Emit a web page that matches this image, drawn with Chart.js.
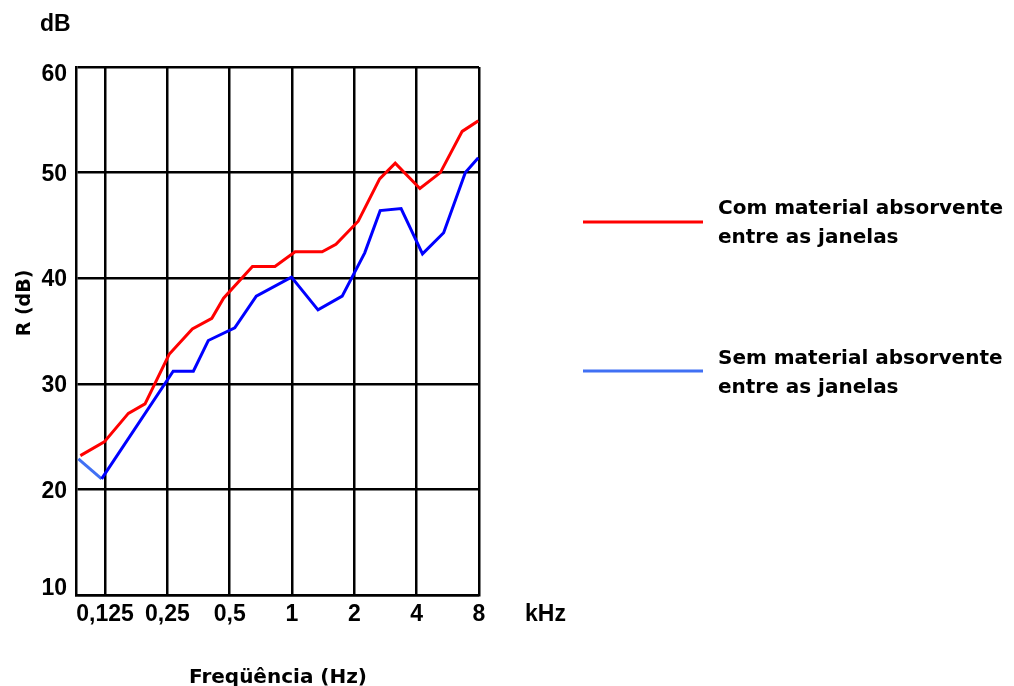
<!DOCTYPE html>
<html>
<head>
<meta charset="utf-8">
<title>Isolamento sonoro - R (dB)</title>
<script src="https://cdn.jsdelivr.net/npm/chart.js@4/dist/chart.umd.min.js"></script>
<style>
  html, body { margin: 0; padding: 0; background: #fff; }
  #wrap { width: 1014px; height: 686px; }
</style>
</head>
<body>
<div id="wrap"><canvas id="chart" width="1014" height="686"></canvas></div>
<script>
// Frequency axis (kHz, octave ticks) and sound reduction axis (dB)
const freqTicksKHz = [0.125, 0.25, 0.5, 1, 2, 4, 8];
const freqTickLabels = ['0,125', '0,25', '0,5', '1', '2', '4', '8'];
const rTicks = [10, 20, 30, 40, 50, 60];

// Com material absorvente entre as janelas
const comFreqKHz = [0.095, 0.124, 0.162, 0.195, 0.255, 0.330, 0.410, 0.467, 0.644, 0.827,
                    1.035, 1.398, 1.630, 2.088, 2.650, 3.151, 4.146, 5.205, 6.634, 7.94];
const comR = [23.2, 24.5, 27.2, 28.1, 32.8, 35.2, 36.2, 38.1, 41.1, 41.1,
              42.5, 42.5, 43.2, 45.4, 49.4, 50.9, 48.5, 50.0, 53.9, 54.9];

// Sem material absorvente entre as janelas
const semFreqKHz = [0.0929, 0.1203, 0.2667, 0.3338, 0.394, 0.529, 0.672, 0.994, 1.335,
                    1.747, 2.245, 2.665, 3.364, 4.268, 5.40, 6.873, 7.94];
const semR = [22.9, 21.0, 31.2, 31.2, 34.1, 35.3, 38.3, 40.1, 37.0,
              38.3, 42.4, 46.4, 46.6, 42.3, 44.3, 50.0, 51.4];

const seriesNames = [
  ['Com material absorvente', 'entre as janelas'],
  ['Sem material absorvente', 'entre as janelas']
];

const RED = '#ff0000';
const BLUE = '#0000ff';
const LIGHT_BLUE = '#4070f4';
const TEXT_FONT = '"DejaVu Sans", "Liberation Sans", Arial, sans-serif';
const TICK_FONT = '"Liberation Sans", Arial, Helvetica, sans-serif';

const toPoints = (xs, ys) => xs.map((x, i) => ({ x: x, y: ys[i] }));

// Axis labels, units and the side legend
const annotations = {
  id: 'annotations',
  afterDraw(chart) {
    const { ctx, chartArea, scales } = chart;
    ctx.save();
    ctx.fillStyle = '#000';

    // y tick labels (kept inside the plot's vertical extent)
    ctx.font = 'bold 23px ' + TICK_FONT;
    ctx.textAlign = 'right';
    ctx.textBaseline = 'alphabetic';
    rTicks.forEach(v => {
      let y = scales.y.getPixelForValue(v);
      y = Math.min(Math.max(y, chartArea.top + 5.5), chartArea.bottom - 8.5);
      ctx.fillText(String(v), 67, y + 8.2);
    });

    // x tick labels
    ctx.textAlign = 'center';
    freqTicksKHz.forEach((v, i) => {
      const x = scales.x.getPixelForValue(v);
      ctx.fillText(freqTickLabels[i], x, 621);
    });
    ctx.fillText('kHz', 545.5, 621);

    // unit above the y axis
    ctx.textAlign = 'left';
    ctx.fillText('dB', 40, 31);

    // x axis title
    ctx.font = 'bold 20px ' + TEXT_FONT;
    ctx.textAlign = 'center';
    ctx.fillText('Freqüência (Hz)', 278, 683);

    // y axis title
    ctx.save();
    ctx.translate(25, 303);
    ctx.rotate(-Math.PI / 2);
    ctx.font = 'bold 19px ' + TEXT_FONT;
    ctx.textAlign = 'center';
    ctx.textBaseline = 'middle';
    ctx.fillText('R (dB)', 0, 0);
    ctx.restore();

    // legend
    const legendRows = [
      { color: RED, lineY: 222, textY: 214 },
      { color: LIGHT_BLUE, lineY: 371, textY: 363.5 }
    ];
    legendRows.forEach((row, i) => {
      ctx.strokeStyle = row.color;
      ctx.lineWidth = 3;
      ctx.beginPath();
      ctx.moveTo(583, row.lineY);
      ctx.lineTo(703, row.lineY);
      ctx.stroke();
      ctx.font = 'bold 20px ' + TEXT_FONT;
      ctx.textAlign = 'left';
      ctx.textBaseline = 'alphabetic';
      seriesNames[i].forEach((line, j) => {
        ctx.fillText(line, 718, row.textY + j * 29);
      });
    });

    ctx.restore();
  }
};

new Chart(document.getElementById('chart'), {
  type: 'line',
  data: {
    datasets: [
      {
        label: seriesNames[0].join(' '),
        data: toPoints(comFreqKHz, comR),
        borderColor: RED,
        borderWidth: 3,
        pointRadius: 0,
        tension: 0,
        fill: false
      },
      {
        label: seriesNames[1].join(' '),
        data: toPoints(semFreqKHz, semR),
        borderColor: BLUE,
        borderWidth: 3,
        pointRadius: 0,
        tension: 0,
        fill: false,
        segment: {
          borderColor: c => (c.p0DataIndex === 0 ? LIGHT_BLUE : undefined)
        }
      }
    ]
  },
  options: {
    responsive: false,
    animation: false,
    devicePixelRatio: 1,
    layout: { padding: { left: 76, top: 67, right: 535, bottom: 91 } },
    plugins: {
      legend: { display: false },
      tooltip: { enabled: false }
    },
    scales: {
      x: {
        type: 'logarithmic',
        min: 0.0905,
        max: 8,
        bounds: 'data',
        afterBuildTicks: scale => {
          scale.ticks = freqTicksKHz.map(v => ({ value: v }));
        },
        ticks: { display: false },
        grid: { color: '#000', lineWidth: 2.5, drawTicks: false },
        border: { display: true, color: '#000', width: 2.5 }
      },
      y: {
        type: 'linear',
        min: 10,
        max: 60,
        ticks: { display: false, stepSize: 10 },
        grid: { color: '#000', lineWidth: 2.5, drawTicks: false },
        border: { display: true, color: '#000', width: 2.5 }
      }
    }
  },
  plugins: [annotations]
});
</script>
</body>
</html>
